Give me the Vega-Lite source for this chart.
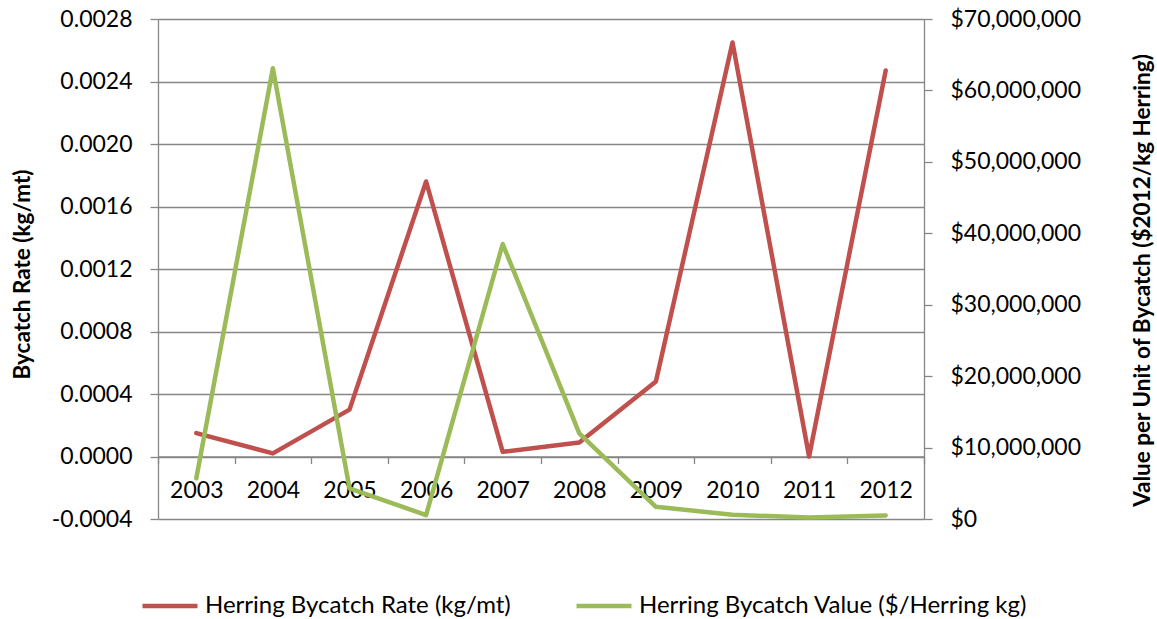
{
  "$schema": "https://vega.github.io/schema/vega-lite/v6.json",
  "width": 766,
  "height": 500,
  "autosize": {"type": "none"},
  "padding": {"left": 158, "top": 19, "right": 233, "bottom": 100},
  "background": "white",
  "config": {
    "view": {"stroke": null},
    "font": "Lato",
    "axis": {
      "labelFont": "Lato",
      "titleFont": "Lato",
      "labelColor": "#000000",
      "titleColor": "#000000",
      "labelFontSize": 23,
      "titleFontSize": 22.5,
      "titleFontWeight": "bold",
      "domainColor": "#868686",
      "tickColor": "#868686",
      "gridColor": "#868686",
      "domainWidth": 1.3,
      "tickWidth": 1.3,
      "gridWidth": 1.3
    }
  },
  "data": {
    "values": [
      {"year": "2003", "series": "Herring Bycatch Rate (kg/mt)", "value": 0.00015},
      {"year": "2004", "series": "Herring Bycatch Rate (kg/mt)", "value": 0.00002},
      {"year": "2005", "series": "Herring Bycatch Rate (kg/mt)", "value": 0.0003},
      {"year": "2006", "series": "Herring Bycatch Rate (kg/mt)", "value": 0.00176},
      {"year": "2007", "series": "Herring Bycatch Rate (kg/mt)", "value": 0.00003},
      {"year": "2008", "series": "Herring Bycatch Rate (kg/mt)", "value": 0.00009},
      {"year": "2009", "series": "Herring Bycatch Rate (kg/mt)", "value": 0.00048},
      {"year": "2010", "series": "Herring Bycatch Rate (kg/mt)", "value": 0.00265},
      {"year": "2011", "series": "Herring Bycatch Rate (kg/mt)", "value": 0.0},
      {"year": "2012", "series": "Herring Bycatch Rate (kg/mt)", "value": 0.00247},
      {"year": "2003", "series": "Herring Bycatch Value ($/Herring kg)", "value": 5700000},
      {"year": "2004", "series": "Herring Bycatch Value ($/Herring kg)", "value": 63100000},
      {"year": "2005", "series": "Herring Bycatch Value ($/Herring kg)", "value": 4300000},
      {"year": "2006", "series": "Herring Bycatch Value ($/Herring kg)", "value": 550000},
      {"year": "2007", "series": "Herring Bycatch Value ($/Herring kg)", "value": 38500000},
      {"year": "2008", "series": "Herring Bycatch Value ($/Herring kg)", "value": 12000000},
      {"year": "2009", "series": "Herring Bycatch Value ($/Herring kg)", "value": 1700000},
      {"year": "2010", "series": "Herring Bycatch Value ($/Herring kg)", "value": 600000},
      {"year": "2011", "series": "Herring Bycatch Value ($/Herring kg)", "value": 200000},
      {"year": "2012", "series": "Herring Bycatch Value ($/Herring kg)", "value": 500000}
    ]
  },
  "encoding": {
    "x": {
      "field": "year",
      "type": "ordinal",
      "bandPosition": 0.5,
      "scale": {"type": "band", "paddingInner": 0, "paddingOuter": 0},
      "axis": {
        "title": null,
        "labelAngle": 0,
        "grid": false,
        "tickBand": "extent",
        "tickSize": 7,
        "offset": -62.5,
        "labelPadding": 16
      }
    },
    "color": {
      "field": "series",
      "type": "nominal",
      "scale": {
        "domain": ["Herring Bycatch Rate (kg/mt)", "Herring Bycatch Value ($/Herring kg)"],
        "range": ["#C0504D", "#9BBB59"]
      },
      "legend": {
        "title": null,
        "orient": "none",
        "direction": "horizontal",
        "legendX": -18,
        "legendY": 557,
        "symbolType": "stroke",
        "symbolSize": 3025,
        "symbolStrokeWidth": 4.5,
        "labelFont": "Lato",
        "labelFontSize": 24,
        "labelColor": "#000000",
        "labelOffset": 5,
        "columnPadding": 56,
        "labelLimit": 600
      }
    }
  },
  "layer": [
    {
      "transform": [{"filter": "datum.series === 'Herring Bycatch Rate (kg/mt)'"}],
      "mark": {"type": "line", "strokeWidth": 4.5, "strokeCap": "round", "strokeJoin": "round"},
      "encoding": {
        "y": {
          "field": "value",
          "type": "quantitative",
          "scale": {"domain": [-0.0004, 0.0028], "nice": false, "zero": false},
          "axis": {
            "title": "Bycatch Rate (kg/mt)",
            "values": [-0.0004, 0, 0.0004, 0.0008, 0.0012, 0.0016, 0.002, 0.0024, 0.0028],
            "format": ".4f",
            "labelExpr": "replace(datum.label, '\u2212', '-')",
            "grid": true,
            "tickSize": 8,
            "labelPadding": 18,
            "titleAngle": 270,
            "titleX": -136,
            "titleY": 255,
            "titleAlign": "center",
            "titleBaseline": "middle"
          }
        }
      }
    },
    {
      "transform": [{"filter": "datum.series === 'Herring Bycatch Value ($/Herring kg)'"}],
      "mark": {"type": "line", "strokeWidth": 4.5, "strokeCap": "round", "strokeJoin": "round"},
      "encoding": {
        "y": {
          "field": "value",
          "type": "quantitative",
          "scale": {"domain": [0, 70000000], "nice": false},
          "axis": {
            "orient": "right",
            "title": "Value per Unit of Bycatch ($2012/kg Herring)",
            "values": [0, 10000000, 20000000, 30000000, 40000000, 50000000, 60000000, 70000000],
            "format": "$,.0f",
            "grid": false,
            "tickSize": 8,
            "labelPadding": 18,
            "titleAngle": 270,
            "titleX": 218,
            "titleY": 261,
            "titleAlign": "center",
            "titleBaseline": "middle"
          }
        }
      }
    }
  ],
  "resolve": {"scale": {"y": "independent"}}
}
